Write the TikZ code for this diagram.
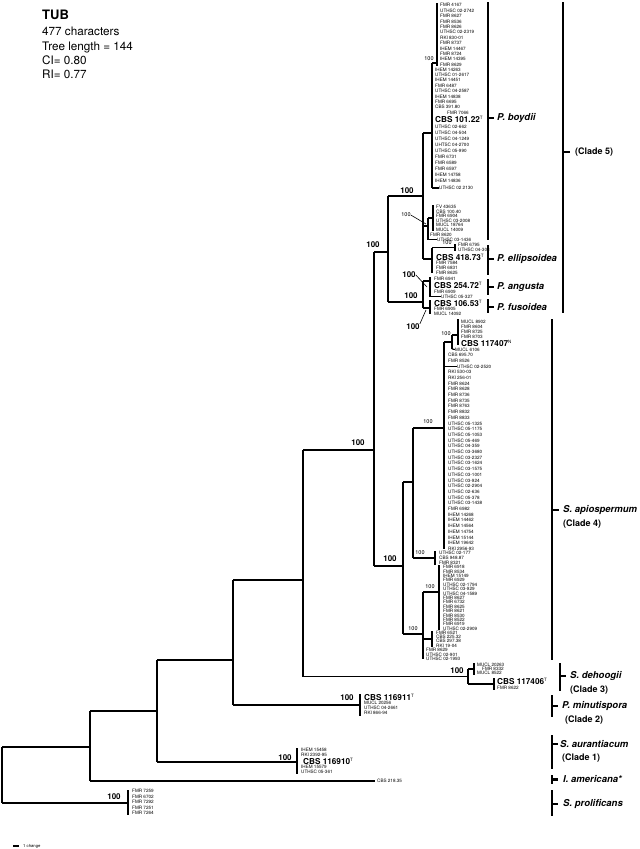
\documentclass[tikz,border=0pt]{standalone}
\usepackage{fontspec}
\setmainfont{TeX Gyre Heros}
\newcommand\supT[1]{\textsuperscript{\fontsize{4.5}{5}\selectfont\mdseries #1}}
\begin{document}
\begin{tikzpicture}[x=1pt,y=-1pt,
  br/.style={line width=1.1pt},
  tbar/.style={line width=1.6pt},
  brk/.style={line width=2.2pt},
  lead/.style={line width=0.6pt},
  tip/.style={anchor=west,inner sep=0pt,font=\fontsize{4.6}{5}\selectfont},
  bs/.style={inner sep=0pt,font=\bfseries\fontsize{8}{8}\selectfont},
  ss/.style={inner sep=0pt,font=\fontsize{5.5}{6}\selectfont},
  cbs/.style={anchor=west,inner sep=0pt,font=\bfseries\fontsize{8.2}{9}\selectfont},
  sp/.style={anchor=west,inner sep=0pt,font=\bfseries\itshape\fontsize{9.5}{10}\selectfont},
  cl/.style={anchor=west,inner sep=0pt,font=\bfseries\fontsize{9}{10}\selectfont},
  hd/.style={anchor=base west,inner sep=0pt,font=\fontsize{11.7}{12}\selectfont}]
\useasboundingbox[fill=white] (0,0) rectangle (640,849);

% header
\node[hd,font=\bfseries\fontsize{13}{13}\selectfont] (hTUB) at (42,19) {TUB};
\node[hd] (h1) at (42,35.7) {477 characters};
\node[hd] (h2) at (42,50) {Tree length = 144};
\node[hd] (h3) at (42,64) {CI= 0.80};
\node[hd] (h4) at (42,78) {RI= 0.77};

% internal nodes
\coordinate (root) at (2,775); \coordinate (roott) at (2,747); \coordinate (rootb) at (2,803);
\coordinate (B) at (90,747); \coordinate (Bt) at (90,711); \coordinate (Bb) at (90,781);
\coordinate (C) at (157,711); \coordinate (Ct) at (157,660); \coordinate (Cb) at (157,762);
\coordinate (D) at (233,660); \coordinate (Dt) at (233,580); \coordinate (Db) at (233,705);
\coordinate (E) at (303,580); \coordinate (Et) at (303,450); \coordinate (Eb) at (303,676.5);
\coordinate (F) at (374,450); \coordinate (Ft) at (374,252); \coordinate (Fb) at (374,566);
\coordinate (G) at (388,252); \coordinate (Gt) at (388,196); \coordinate (Gb) at (388,302);
\coordinate (I) at (423,196); \coordinate (It) at (423,133); \coordinate (Ib) at (423,259);
\coordinate (J) at (432,133); \coordinate (Jt) at (432,63); \coordinate (Jb) at (432,188);
\coordinate (K1) at (437,63); \coordinate (K1t) at (437,3); \coordinate (K1b) at (437,66);
\coordinate (K) at (428,226); \coordinate (Kt) at (428,218); \coordinate (Kb) at (428,239.5);
\coordinate (KB) at (433,218); \coordinate (KBt) at (433,205); \coordinate (KBb) at (433,231);
\coordinate (L) at (432,259); \coordinate (Lt) at (432,247.5); \coordinate (Lb) at (432,273);
\coordinate (L1) at (455,247.5); \coordinate (L1t) at (455,244); \coordinate (L1b) at (455,251);
\coordinate (H) at (423,302); \coordinate (Ht) at (423,281); \coordinate (Hb) at (423,308);
\coordinate (Ang) at (430,281); \coordinate (Angt) at (430,277); \coordinate (Angb) at (430,296.5);
\coordinate (Fus) at (430,308); \coordinate (Fust) at (430,300); \coordinate (Fusb) at (430,314);
\coordinate (M) at (403,566); \coordinate (Mt) at (403,482); \coordinate (Mb) at (403,634);
\coordinate (N) at (413,482); \coordinate (Nt) at (413,428); \coordinate (Nb) at (413,558);
\coordinate (Q) at (444,428); \coordinate (Qt) at (444,342); \coordinate (Qb) at (444,549);
\coordinate (R) at (452,342); \coordinate (Rt) at (452,335); \coordinate (Rb) at (452,349);
\coordinate (Tn) at (458,335); \coordinate (Tt) at (458,319); \coordinate (Tb) at (458,345);
\coordinate (Sm) at (435,558); \coordinate (Smt) at (435,551); \coordinate (Smb) at (435,565);
\coordinate (P) at (423,634); \coordinate (Pt) at (423,592); \coordinate (Pb) at (423,659);
\coordinate (U) at (439,592); \coordinate (Ut) at (439,565); \coordinate (Ub) at (439,630);
\coordinate (V) at (432,639); \coordinate (Vt) at (432,631); \coordinate (Vb) at (432,647);
\coordinate (S) at (468,676.5); \coordinate (St) at (468,669); \coordinate (Sb) at (468,684);
\coordinate (S1) at (474,669); \coordinate (S1t) at (474,663); \coordinate (S1b) at (474,675);
\coordinate (S2) at (494,684); \coordinate (S2t) at (494,678); \coordinate (S2b) at (494,690);
\coordinate (Min) at (360,705); \coordinate (Mint) at (360,694); \coordinate (Minb) at (360,716);
\coordinate (Aur) at (297,762); \coordinate (Aurt) at (297,748); \coordinate (Aurb) at (297,774);
\coordinate (Ame) at (375,781);
\coordinate (Pro) at (128,803); \coordinate (Prot) at (128,790); \coordinate (Prob) at (128,815);

% verticals
\foreach \n in {root,B,C,D,E,F,G,I,J,K,L,L1,H,M,N,Q,R,P,S}
  \draw[br] (\n t) -- (\n b);
\foreach \n in {K1,KB,Ang,Fus,T,Sm,U,V,S1,S2,Min,Aur,Pro}
  \draw[tbar] (\n t) -- (\n b);

% branches
\draw[br] (root |- B) -- (B);  \draw[br] (root |- Pro) -- (Pro);
\draw[br] (B |- C) -- (C);     \draw[br] (B |- Ame) -- (Ame);
\draw[br] (C |- D) -- (D);     \draw[br] (C |- Aur) -- (Aur);
\draw[br] (D |- E) -- (E);     \draw[br] (D |- Min) -- (Min);
\draw[br] (E |- F) -- (F);     \draw[br] (E |- S) -- (S);
\draw[br] (F |- G) -- (G);     \draw[br] (F |- M) -- (M);
\draw[br] (G |- I) -- (I);     \draw[br] (G |- H) -- (H);
\draw[br] (I |- J) -- (J);     \draw[br] (I |- K) -- (K);  \draw[br] (I |- L) -- (L);
\draw[br] (J |- K1) -- (K1);   \draw[br] (K |- KB) -- (KB); \draw[br] (L |- L1) -- (L1);
\draw[br] (H |- Ang) -- (Ang); \draw[br] (H |- Fus) -- (Fus);
\draw[br] (M |- N) -- (N);     \draw[br] (M |- P) -- (P);
\draw[br] (N |- Q) -- (Q);     \draw[br] (N |- Sm) -- (Sm);
\draw[br] (Q |- R) -- (R);     \draw[br] (R |- Tn) -- (Tn);
\draw[br] (P |- U) -- (U);     \draw[br] (P |- V) -- (V);
\draw[br] (S |- S1) -- (S1);   \draw[br] (S |- S2) -- (S2);

% ---- tips: P. boydii
\foreach \t [count=\i from 0] in {FMR 4167,UTHSC 02-2742,FMR 8627,FMR 8536,FMR 8626,UTHSC 02-2319,RKI 830-01,FMR 8737,IHEM 14467,FMR 8724,IHEM 14395,FMR 8629}
  \node[tip] (ka\i) at (440,{5.3+\i*5.4}) {\t};
\foreach \t [count=\i from 0] in {IHEM 14263,UTHSC 01-2617,IHEM 14451,FMR 6487,UTHSC 04-2587,IHEM 14838,FMR 6695,CBS 391.80}
  \node[tip] (jb\i) at (435,{69.5+\i*5.4}) {\t};
\node[tip] (j7066) at (447,112.5) {FMR 7066};
\node[cbs] (cbs10122) at (435,119) {CBS 101.22\supT{T}};
\foreach \t [count=\i from 0] in {UTHSC 02-662,UTHSC 04-504,UTHSC 04-1249,UHTSC 04-2700,UTHSC 05-990,FMR 6731,FMR 6589,FMR 6597,IHEM 14758,IHEM 14836}
  \node[tip] (jc\i) at (435,{127+\i*6}) {\t};
\node[tip] (jx) at (439,188) {UTHSC 02 2130};
\draw[br] (Jb) -- (jx.west);
\foreach \t [count=\i from 0] in {FV 43635,CBS 100.40,FMR 6904,UTHSC 03-2008,MUCL 18764,MUCL 14009}
  \node[tip] (kb\i) at (436,{207+\i*4.5}) {\t};
\node[tip] (k8620) at (430,234.5) {FMR 8620};
\node[tip] (kx) at (437,239.5) {UTHSC 03-1436};
\draw[br] (Kb) -- (kx.west);

% P. ellipsoidea
\node[tip] (l6795) at (458,245) {FMR 6795};
\node[tip] (l308) at (458,250) {UTHSC 04-308};
\node[cbs] (cbs41873) at (436,257) {CBS 418.73\supT{T}};
\foreach \t [count=\i from 0] in {FMR 7584,FMR 6831,FMR 8625}
  \node[tip] (lb\i) at (436,{263+\i*5}) {\t};

% P. angusta / fusoidea
\node[tip] (a6941) at (434,279) {FMR 6941};
\node[cbs] (cbs25472) at (434,285) {CBS 254.72\supT{T}};
\node[tip] (a6909) at (434,291.5) {FMR 6909};
\node[tip] (angx) at (441,296.5) {UTHSC 05-327};
\draw[br] (Angb) -- (angx.west);
\node[cbs] (cbs10653) at (434,303) {CBS 106.53\supT{T}};
\node[tip] (f6905) at (434,309) {FMR 6905};
\node[tip] (f14092) at (434,313.8) {MUCL 14092};

% S. apiospermum
\foreach \t [count=\i from 0] in {MUCL 8902,FMR 8604,FMR 8725,FMR 8703}
  \node[tip] (ta\i) at (461,{322+\i*5}) {\t};
\node[cbs] (cbs117407) at (461,343) {CBS 117407\supT{N}};
\node[tip] (rx) at (455,349.5) {MUCL 6106};
\draw[br] (Rb) -- (rx.west);
\foreach \t [count=\i from 0] in {CBS 695.70,FMR 8526}
  \node[tip] (qa\i) at (448,{355+\i*5.7}) {\t};
\node[tip] (qx) at (457,366.4) {UTHSC 02-2520};
\draw[br] (Q |- qx.west) -- (qx.west);
\foreach \t [count=\i from 3] in {RKI 530-03,RKI 256-01,FMR 8624,FMR 8628,FMR 8736,FMR 8735,FMR 8763,FMR 8832,FMR 8833,UTHSC 05-1325,UTHSC 05-1175,UTHSC 05-1053,UTHSC 05-469,UTHSC 04-359,UTHSC 03-3680,UTHSC 03-2327,UTHSC 03-1624,UTHSC 03-1575,UTHSC 03-1001,UTHSC 03-924,UTHSC 02-2904,UTHSC 02-636,UTHSC 05-378,UTHSC 03-1438,FMR 6982,IHEM 14268,IHEM 14462,IHEM 14564,IHEM 14754,IHEM 15144,IHEM 19642,RKI 2956-93}
  \node[tip] (qb\i) at (448,{355+\i*5.7}) {\t};
\foreach \t [count=\i from 0] in {UTHSC 02-177,CBS 948.87,FMR 8321}
  \node[tip] (sm\i) at (439,{553+\i*5}) {\t};
\foreach \t [count=\i from 0] in {FMR 6918,FMR 8534,IHEM 15149,FMR 6929,UTHSC 02-1794,UTHSC 03-929,UTHSC 04-1589,FMR 8627,FMR 6732,FMR 8625,FMR 8621,FMR 8530,FMR 8522,FMR 6919,UTHSC 02-2909}
  \node[tip] (u\i) at (443,{567+\i*4.4}) {\t};
\foreach \t [count=\i from 0] in {FMR 6521,CBS 225.32,CBS 297.38,RKI 19-04}
  \node[tip] (v\i) at (436,{632.5+\i*4.3}) {\t};
\foreach \t [count=\i from 0] in {FMR 8629,UTHSC 02-901,UTHSC 02-1993}
  \node[tip] (p\i) at (426,{650+\i*4.5}) {\t};

% S. dehoogii
\node[tip] (d20263) at (477,665) {MUCL 20263};
\node[tip] (d8332) at (482,669) {FMR 8332};
\node[tip] (d8522) at (477,673) {MUCL 8522};
\node[cbs] (cbs117406) at (497,681.5) {CBS 117406\supT{T}};
\node[tip] (d8622) at (497,688) {FMR 8622};

% P. minutispora
\node[cbs] (cbs116911) at (364,697) {CBS 116911\supT{T}};
\foreach \t [count=\i from 0] in {MUCL 20256,UTHSC 04-2661,RKI 866-94}
  \node[tip] (mi\i) at (364,{703+\i*5}) {\t};

% S. aurantiacum
\node[tip] (au1) at (301,750) {IHEM 15458};
\node[tip] (au2) at (301,755) {RKI 2392-95};
\node[cbs] (cbs116910) at (303,761) {CBS 116910\supT{T}};
\node[tip] (au3) at (301,767) {IHEM 15579};
\node[tip] (au4) at (301,772) {UTHSC 05-361};

% I. americana
\node[tip] (am) at (377,781) {CBS 218.35};

% S. prolificans
\foreach \t [count=\i from 0] in {FMR 7259,FMR 6702,FMR 7292,FMR 7251,FMR 7264}
  \node[tip] (pr\i) at (132,{791+\i*5.5}) {\t};

% support values (bold)
\node[bs] (s1) at (373,245) {100};
\node[bs] (s2) at (358,443) {100};
\node[bs] (s3) at (390,559) {100};
\node[bs] (s4) at (407,191) {100};
\node[bs] (s5) at (411,296) {100};
\node[bs] (s6) at (409,275) {100};
\draw[lead] (s6.east) -- (427,287);
\node[bs] (s7) at (413,327) {100};
\draw[lead] (s7.north east) -- (426,310);
\node[bs] (s8) at (457,671) {100};
\node[bs] (s9) at (347,698) {100};
\node[bs] (s10) at (285,758) {100};
\node[bs] (s11) at (114,797) {100};
% support values (small)
\node[ss] (t1) at (429,59) {100};
\node[ss] (t2) at (406,215) {100};
\draw[lead] (t2.east) -- (426,224);
\node[ss] (t3) at (447,243) {100};
\node[ss] (t4) at (446,334) {100};
\node[ss] (t5) at (428,422) {100};
\node[ss] (t6) at (420,553) {100};
\node[ss] (t7) at (430,587) {100};
\node[ss] (t8) at (413,629) {100};

% right-hand brackets
\draw[brk] (563,2) -- (563,313);  \draw[brk] (563,152) -- (570,152);
\node[cl] (c5) at (575,152) {(Clade 5)};
\draw[brk] (488,2) -- (488,240);  \draw[brk] (488,118) -- (494,118);
\node[sp] (boy) at (497,118) {P. boydii};
\draw[brk] (488,245) -- (488,275); \draw[brk] (488,259) -- (494,259);
\node[sp] (ell) at (497,259) {P. ellipsoidea};
\draw[brk] (488,279) -- (488,295); \draw[brk] (488,287) -- (494,287);
\node[sp] (ang) at (497,287) {P. angusta};
\draw[brk] (488,299) -- (488,313); \draw[brk] (488,307) -- (494,307);
\node[sp] (fus) at (497,307) {P. fusoidea};
\draw[brk] (552,319) -- (552,660); \draw[brk] (552,510) -- (559,510);
\node[sp] (api) at (563,510) {S. apiospermum};
\node[cl] (c4) at (563,524) {(Clade 4)};
\draw[brk] (560,663) -- (560,691); \draw[brk] (560,676) -- (566,676);
\node[sp] (deh) at (570,676) {S. dehoogii};
\node[cl] (c3) at (570,690) {(Clade 3)};
\draw[brk] (552,695) -- (552,717); \draw[brk] (552,706) -- (558,706);
\node[sp] (minu) at (562,706) {P. minutispora};
\node[cl] (c2) at (565,720) {(Clade 2)};
\draw[brk] (552,735) -- (552,769); \draw[brk] (552,744) -- (558,744);
\node[sp] (aur) at (560,744) {S. aurantiacum};
\node[cl] (c1) at (562,758) {(Clade 1)};
\draw[brk] (552,775) -- (552,784); \draw[brk] (552,779.5) -- (558,779.5);
\node[sp] (ame) at (563,779.5) {I. americana*};
\draw[brk] (552,790) -- (552,816); \draw[brk] (552,804) -- (558,804);
\node[sp] (pro) at (563,804) {S. prolificans};

% scale bar
\coordinate (sc1) at (13,846); \coordinate (sc2) at (19,846);
\draw[line width=1.5pt] (sc1) -- (sc2);
\node[tip,font=\fontsize{4.2}{5}\selectfont] (scl) at (23,846) {1 change};
\end{tikzpicture}
\end{document}
